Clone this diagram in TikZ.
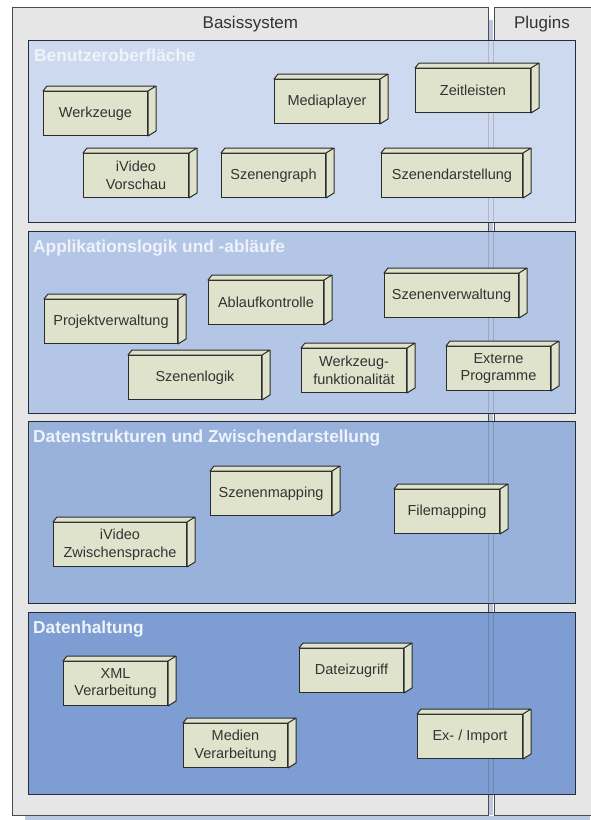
\documentclass[tikz,border=0pt]{standalone}
\usepackage{fontspec}
\setmainfont{Liberation Sans}

\definecolor{frameg}{HTML}{E6E6E6}
\definecolor{gapb}{HTML}{B9C9E2}
\definecolor{layerb}{HTML}{262C38}
\definecolor{layerA}{HTML}{CDD9EE}
\definecolor{layerB}{HTML}{B3C6E6}
\definecolor{layerC}{HTML}{98B2DB}
\definecolor{layerD}{HTML}{7E9ED3}
\definecolor{compf}{HTML}{DFE3CB}
\definecolor{compb}{HTML}{2B2B2B}
\definecolor{textg}{HTML}{333333}
\definecolor{titlew}{HTML}{EEF3FB}

\tikzstyle{frame} = [rectangle, anchor=north west, draw=black!70, fill=frameg, line width=0.8pt, minimum height=808pt]
\tikzstyle{layer} = [rectangle, anchor=north west, draw=layerb, line width=1.3pt, minimum width=547pt, minimum height=182pt]
\tikzstyle{title} = [anchor=base west, inner sep=0pt, text=titlew, font=\bfseries\fontsize{17.3}{20}\selectfont]
\tikzstyle{head} = [anchor=base, inner sep=0pt, text=black!80, font=\fontsize{17}{20}\selectfont]
\tikzstyle{comp} = [rectangle, anchor=north west, draw=compb, fill=compf, line width=1pt, minimum width=104pt, minimum height=44pt, inner sep=1pt, align=center, text=textg, font=\fontsize{14.5}{17.5}\selectfont]
\tikzstyle{face} = [draw=compb, fill=compf, line width=1pt, line join=round]
\tikzstyle{gapline} = [black, opacity=0.15, line width=0.8pt]

\begin{document}
\begin{tikzpicture}[x=1pt, y=-1pt]
\useasboundingbox (0,0) rectangle (590,820);

% Outer frames
\fill [gapb] (489,20) rectangle (493,815);
\fill [gapb] (25,816) rectangle (590,820);
\node (basis) [frame, minimum width=476pt] at (12,7) {};
\node (plugins) [frame, minimum width=104pt] at (494,7) {};
\node (basisL) [head] at ([yshift=-21pt]basis.north) {Basissystem};
\node (pluginsL) [head] at (542,28) {Plugins};

% Layers
\node (ui) [layer, fill=layerA] at (28,40) {};
\node (app) [layer, fill=layerB] at (28,231) {};
\node (data) [layer, fill=layerC] at (28,421) {};
\node (store) [layer, fill=layerD] at (28,612) {};
\draw [gapline] (488.5,41) -- (488.5,221) (493.5,41) -- (493.5,221)
      (488.5,232) -- (488.5,412) (493.5,232) -- (493.5,412)
      (488.5,422) -- (488.5,602) (493.5,422) -- (493.5,602)
      (488.5,613) -- (488.5,793) (493.5,613) -- (493.5,793);

\node (uiT) [title] at ([shift={(6,21)}]ui.north west) {Benutzeroberfläche};
\node (appT) [title] at ([shift={(5,21)}]app.north west) {Applikationslogik und -abläufe};
\node (dataT) [title] at ([shift={(5,21)}]data.north west) {Datenstrukturen und Zwischendarstellung};
\node (storeT) [title] at ([shift={(5,21)}]store.north west) {Datenhaltung};

% Benutzeroberflaeche
\node (werkz) [comp] at (43,91) {Werkzeuge};
\node (mplayer) [comp, minimum width=105pt] at (274,79) {Mediaplayer};
\node (zeitl) [comp, minimum width=115pt] at (415,68) {Zeitleisten};
\node (vorschau) [comp, minimum width=105pt] at (83,153) {iVideo\\Vorschau};
\node (sgraph) [comp] at (221,153) {Szenengraph};
\node (sdarst) [comp, minimum width=141pt] at (381,153) {Szenendarstellung};

% Applikationslogik
\node (projekt) [comp, minimum width=133pt] at (44,299) {Projektverwaltung};
\node (ablauf) [comp, minimum width=115pt] at (208,280) {Ablaufkontrolle};
\node (sverw) [comp, minimum width=134pt] at (384,273) {Szenenverwaltung};
\node (slogik) [comp, minimum width=133pt] at (128,355) {Szenenlogik};
\node (wfunk) [comp, minimum width=105pt] at (301,348) {Werkzeug-\\funktionalität};
\node (extern) [comp] at (446,346) {Externe\\Programme};

% Datenstrukturen
\node (zsprache) [comp, minimum width=133pt] at (53,522) {iVideo\\Zwischensprache};
\node (smap) [comp, minimum width=121pt] at (210,471) {Szenenmapping};
\node (fmap) [comp, minimum width=105pt] at (394,489) {Filemapping};

% Datenhaltung
\node (xml) [comp] at (63,661) {XML\\Verarbeitung};
\node (dzugriff) [comp] at (299,648) {Dateizugriff};
\node (medien) [comp] at (183,723) {Medien\\Verarbeitung};
\node (import) [comp, minimum width=105pt] at (417,714) {Ex- / Import};

% 3d faces
\foreach \n in {werkz,mplayer,zeitl,vorschau,sgraph,sdarst,projekt,ablauf,sverw,slogik,wfunk,extern,zsprache,smap,fmap,xml,dzugriff,medien,import}
  \draw [face] (\n.north west) -- ++(4,-5) -- ([shift={(8,-5)}]\n.north east)
        -- ([shift={(8,-5)}]\n.south east) -- (\n.south east) -- (\n.north east) -- cycle
        (\n.north east) -- ++(8,-5);
\end{tikzpicture}
\end{document}
